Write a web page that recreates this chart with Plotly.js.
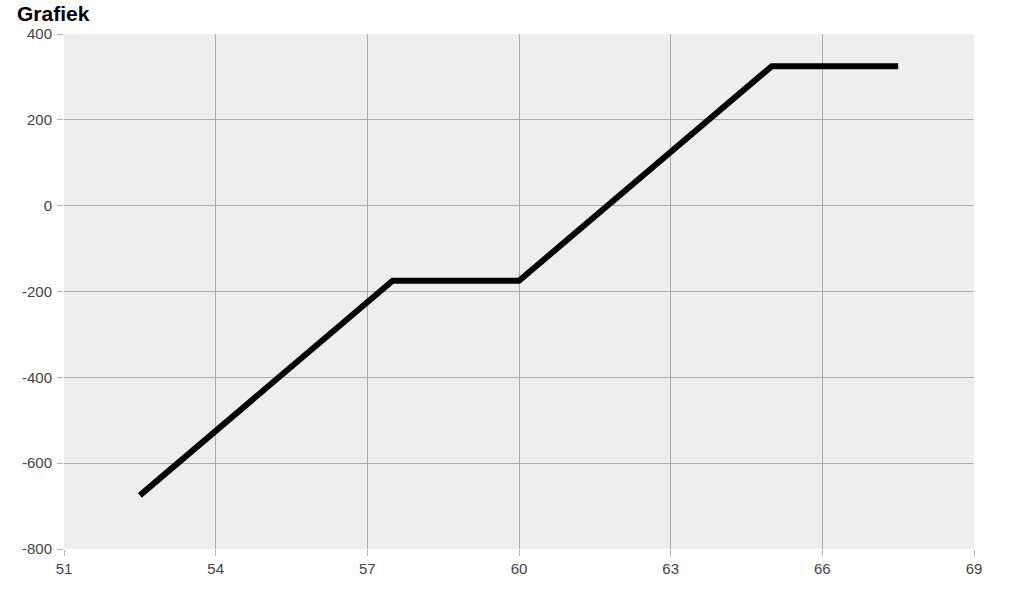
<!DOCTYPE html>
<html>
<head>
<meta charset="utf-8">
<script src="https://cdn.plot.ly/plotly-3.0.1.min.js"></script>
<style>html,body{margin:0;padding:0;background:#fff;}#chart{width:1024px;height:589px;}</style>
</head>
<body>
<div id="chart"></div>
<script>
const xValues = [52.5, 57.5, 60, 65, 67.5];
const yValues = [-675, -175, -175, 325, 325];
const xTicks = [51, 54, 57, 60, 63, 66, 69];
const yTicks = [-800, -600, -400, -200, 0, 200, 400];

const trace = {
  x: xValues, y: yValues, type: 'scatter', mode: 'lines',
  line: {color: '#000', width: 6}, hoverinfo: 'none'
};
const axisCommon = {
  showgrid: true, gridcolor: '#ababab', gridwidth: 1,
  zeroline: false, showline: false,
  ticks: 'outside', ticklen: 6, tickcolor: '#b4b4b4', tickwidth: 1,
  tickfont: {family: 'Liberation Sans, Arial, sans-serif', size: 15, color: '#444'}
};
const layout = {
  width: 1024, height: 589,
  margin: {l: 64, r: 50, t: 34, b: 40},
  paper_bgcolor: '#fff', plot_bgcolor: '#eeeeee',
  showlegend: false,
  title: {text: '<b>Grafiek</b>', x: 17/1024, xref: 'container', yref: 'container', xanchor: 'left', y: 1 - 21/589, yanchor: 'bottom',
    font: {family: 'Liberation Sans, Arial, sans-serif', size: 21, color: '#000'}},
  xaxis: Object.assign({}, axisCommon, {range: [51, 69], tickvals: xTicks, ticktext: xTicks.map(String)}),
  yaxis: Object.assign({}, axisCommon, {range: [-800, 400], tickvals: yTicks, ticktext: yTicks.map(String), ticklabelstandoff: 2})
};
Plotly.newPlot('chart', [trace], layout, {displayModeBar: false, staticPlot: true});
</script>
</body>
</html>
